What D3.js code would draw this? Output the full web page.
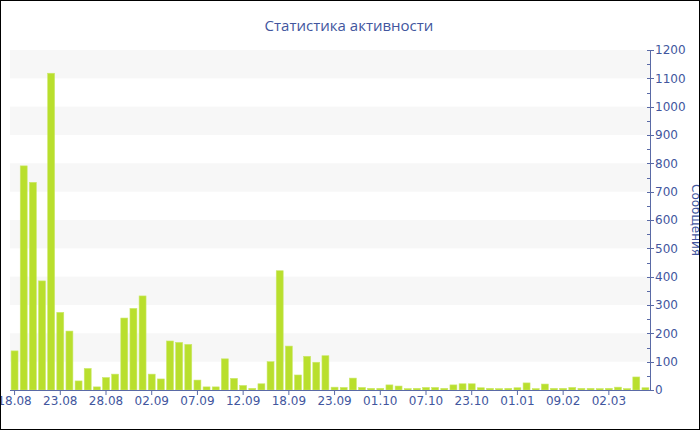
<!DOCTYPE html>
<html><head><meta charset="utf-8">
<script src="https://cdn.jsdelivr.net/npm/d3@7"></script>
<style>body{margin:0;background:#fff}svg{display:block}</style>
</head><body><svg id="c" width="700" height="430"></svg>
<script>
const title = "Статистика активности";
const yLabel = "Сообщения";
const categories = ["18.08","19.08","20.08","21.08","22.08","23.08","24.08","25.08","26.08","27.08",
"28.08","29.08","30.08","31.08","01.09","02.09","03.09","04.09","05.09","06.09",
"07.09","08.09","09.09","10.09","11.09","12.09","13.09","14.09","16.09","17.09",
"18.09","19.09","20.09","21.09","22.09","23.09","24.09","26.09","28.09","30.09",
"01.10","02.10","03.10","05.10","06.10","07.10","10.10","14.10","17.10","20.10",
"23.10","02.11","20.11","05.12","20.12","01.01","10.01","18.01","25.01","01.02",
"09.02","13.02","17.02","22.02","26.02","02.03","07.03","11.03","15.03","19.03"];
const values = [138,791,733,385,1118,274,208,32,76,11,
44,56,254,288,332,56,39,173,168,161,
35,11,11,110,41,16,6,22,100,421,
155,53,119,98,121,10,9,42,9,6,
6,18,14,5,6,9,9,6,18,22,
22,8,6,5,6,8,25,5,21,6,
6,9,6,6,5,6,10,5,46,8];
const tickLabels = ["18.08","23.08","28.08","02.09","07.09","12.09","18.09","23.09","01.10","07.10","23.10","01.01","09.02","02.03"];
const yTicks = [0,100,200,300,400,500,600,700,800,900,1000,1100,1200];

const svg = d3.select("#c");
const L = 10, R = 650, T = 50, B = 390;
const textColor = "#42569e", axisColor = "#5a6aa6";
const x = d3.scaleBand().domain(categories).range([L, R]).paddingInner(0.24).paddingOuter(0.12);
const y = d3.scaleLinear().domain([0, 1200]).range([B, T]);

// bands
const bands = d3.range(100, 1200, 200);
svg.append("g").selectAll("rect").data(bands).join("rect")
  .attr("x", L).attr("width", R - L)
  .attr("y", d => y(d + 100)).attr("height", d => y(d) - y(d + 100))
  .attr("fill", "#f7f7f7");

// bars
svg.append("g").selectAll("rect").data(values).join("rect")
  .attr("x", (d, i) => x(categories[i])).attr("width", x.bandwidth())
  .attr("y", d => y(d)).attr("height", d => B - y(d))
  .attr("fill", "#b9df2d").attr("stroke", "#cbe86a").attr("stroke-width", 0.6);

// x axis
const xAxis = d3.axisBottom(x).tickValues(tickLabels).tickSize(5).tickSizeOuter(0);
const gx = svg.append("g").attr("transform", `translate(0,${B})`).call(xAxis);
gx.select(".domain").attr("stroke", axisColor).attr("d", `M${L},0.5H${R}`);
gx.selectAll(".tick line").attr("stroke", axisColor);
gx.selectAll(".tick text").attr("fill", textColor).attr("font-family", "DejaVu Sans").attr("font-size", 12).attr("dy", "0.55em");

// y axis (right)
const gy = svg.append("g").attr("transform", `translate(${R},0)`);
gy.append("line").attr("x1", 0.5).attr("x2", 0.5).attr("y1", T).attr("y2", B).attr("stroke", axisColor);
gy.selectAll("line.minor").data(d3.range(50, 1200, 100)).join("line").attr("class", "minor")
  .attr("x1", -3).attr("x2", 0.5).attr("y1", d => Math.round(y(d)) + 0.5).attr("y2", d => Math.round(y(d)) + 0.5)
  .attr("stroke", axisColor);
gy.selectAll("line.major").data(yTicks).join("line").attr("class", "major")
  .attr("x1", -3).attr("x2", 4).attr("y1", d => Math.round(y(d)) + 0.5).attr("y2", d => Math.round(y(d)) + 0.5)
  .attr("stroke", axisColor);
gy.selectAll("text").data(yTicks).join("text")
  .attr("x", 5).attr("y", d => y(d)).attr("dy", "0.36em")
  .attr("fill", textColor).attr("font-family", "DejaVu Sans").attr("font-size", 12)
  .text(d => d);

// y label
svg.append("text").attr("transform", `translate(692,${(T + B) / 2}) rotate(90)`)
  .attr("text-anchor", "middle").attr("fill", textColor)
  .attr("font-family", "DejaVu Sans").attr("font-size", 12).text(yLabel);

// title
svg.append("text").attr("x", 349).attr("y", 31).attr("text-anchor", "middle")
  .attr("fill", textColor).attr("font-family", "Open Sans").attr("font-size", 15).text(title);

// border
svg.append("rect").attr("x", 0.5).attr("y", 0.5).attr("width", 699).attr("height", 429)
  .attr("fill", "none").attr("stroke", "#000");
</script></body></html>
